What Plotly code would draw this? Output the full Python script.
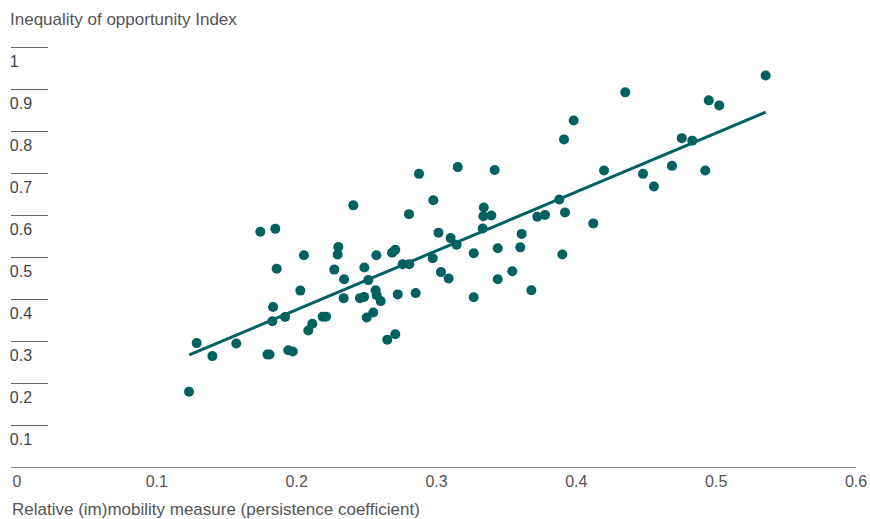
import plotly.graph_objects as go

# Relative (im)mobility measure (persistence coefficient)
mobility = [
    0.1230, 0.1285, 0.1397, 0.1568, 0.1740, 0.1847, 0.1857, 0.1791, 0.1806, 0.1831,
    0.1826, 0.1917, 0.1940, 0.1972, 0.2026, 0.2052, 0.2083, 0.2112, 0.2186, 0.2210,
    0.2269, 0.2298, 0.2293, 0.2339, 0.2336, 0.2405, 0.2453, 0.2482, 0.2484, 0.2512,
    0.2565, 0.2572, 0.2601, 0.2501, 0.2548, 0.2648, 0.2705, 0.2682, 0.2705, 0.2570,
    0.2723, 0.2758, 0.2805, 0.2803, 0.2851, 0.2875, 0.2977, 0.2973, 0.3014, 0.3032,
    0.3087, 0.3101, 0.3144, 0.3152, 0.3266, 0.3266, 0.3338, 0.3335, 0.3392, 0.3330,
    0.3416, 0.3438, 0.3438, 0.3542, 0.3599, 0.3609, 0.3678, 0.3721, 0.3776, 0.3878,
    0.3919, 0.3900, 0.4121, 0.3912, 0.3981, 0.4198, 0.4350, 0.4477, 0.4555, 0.4684,
    0.4754, 0.4829, 0.4922, 0.4947, 0.5022, 0.5354,
]

# Inequality of opportunity Index
inequality = [
    0.179, 0.295, 0.264, 0.294, 0.560, 0.567, 0.472, 0.268, 0.268, 0.381,
    0.347, 0.357, 0.278, 0.275, 0.420, 0.504, 0.325, 0.341, 0.358, 0.358,
    0.470, 0.524, 0.506, 0.447, 0.402, 0.623, 0.402, 0.405, 0.475, 0.445,
    0.421, 0.409, 0.395, 0.356, 0.368, 0.303, 0.316, 0.510, 0.517, 0.504,
    0.411, 0.483, 0.483, 0.602, 0.414, 0.698, 0.635, 0.497, 0.558, 0.464,
    0.449, 0.545, 0.529, 0.714, 0.509, 0.404, 0.618, 0.597, 0.599, 0.568,
    0.707, 0.521, 0.447, 0.466, 0.523, 0.555, 0.421, 0.596, 0.600, 0.637,
    0.606, 0.506, 0.580, 0.780, 0.825, 0.706, 0.892, 0.698, 0.668, 0.717,
    0.783, 0.777, 0.706, 0.873, 0.861, 0.932,
]

# Fitted trend line end points
fit_x = [0.1232, 0.5354]
fit_y = [0.267, 0.845]

x_ticks = [0, 0.1, 0.2, 0.3, 0.4, 0.5, 0.6]
x_tick_labels = ["0", "0.1", "0.2", "0.3", "0.4", "0.5", "0.6"]
y_ticks = [0.1, 0.2, 0.3, 0.4, 0.5, 0.6, 0.7, 0.8, 0.9, 1.0]
y_tick_labels = ["0.1", "0.2", "0.3", "0.4", "0.5", "0.6", "0.7", "0.8", "0.9", "1"]

TEAL = "#006161"
TEXT = "#555555"
FONT = "Liberation Sans, Arial, sans-serif"

W, H = 870, 519
ML, MR, MT, MB = 11, 14, 45, 52
PW, PH = W - ML - MR, H - MT - MB

fig = go.Figure()
fig.add_trace(go.Scatter(
    x=fit_x, y=fit_y, mode="lines",
    line=dict(color=TEAL, width=3), hoverinfo="skip", showlegend=False,
))
fig.add_trace(go.Scatter(
    x=mobility, y=inequality, mode="markers",
    marker=dict(color=TEAL, size=10, line=dict(width=0)), showlegend=False,
))

fig.update_layout(
    width=W, height=H,
    margin=dict(l=ML, r=MR, t=MT, b=MB, autoexpand=False),
    paper_bgcolor="white", plot_bgcolor="white",
    font=dict(family=FONT, size=16, color=TEXT),
    title=dict(
        text="Inequality of opportunity Index",
        x=10 / W, xref="container", xanchor="left",
        y=1 - 19 / H, yref="container", yanchor="middle",
        font=dict(family=FONT, size=17, color=TEXT),
    ),
    annotations=[dict(
        text="Relative (im)mobility measure (persistence coefficient)",
        xref="paper", yref="paper", x=-1 / PW, y=-43 / PH,
        xanchor="left", yanchor="middle", showarrow=False,
        font=dict(family=FONT, size=17, color=TEXT),
    )],
)

fig.update_xaxes(
    range=[-0.0043, 0.6], tickvals=x_ticks, ticktext=x_tick_labels,
    showgrid=False, zeroline=False, showline=True, linecolor="#888888", linewidth=1,
    ticks="", automargin=False, ticklabeloverflow="allow", fixedrange=True,
)
fig.update_yaxes(
    range=[0, PH / 420], tickvals=y_ticks, ticktext=y_tick_labels,
    showgrid=False, zeroline=False, showline=False,
    ticks="inside", ticklen=37, tickcolor="#666666", tickwidth=1,
    ticklabelposition="inside", ticklabelshift=14, ticklabelstandoff=-38,
    ticklabeloverflow="allow", automargin=False, fixedrange=True,
)

fig.write_html(
    "out.html",
    config={"displayModeBar": False},
    post_script="document.body.style.margin='0';",
)
